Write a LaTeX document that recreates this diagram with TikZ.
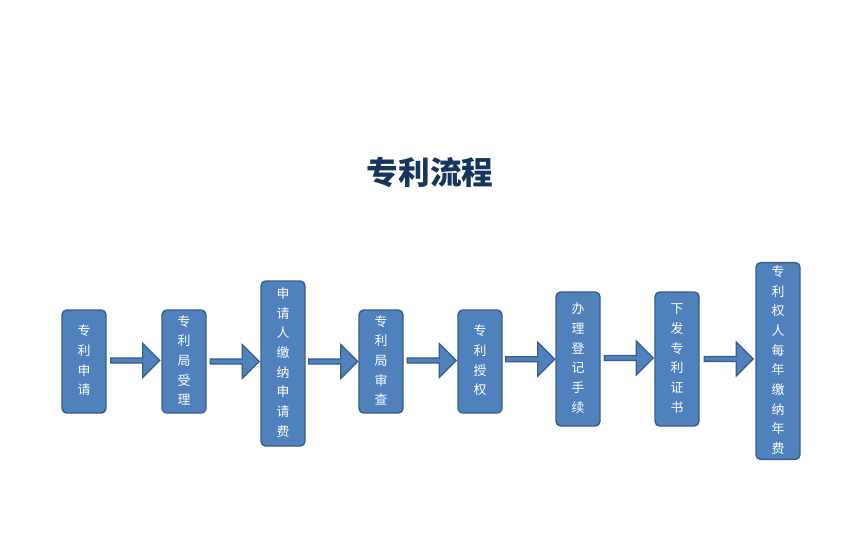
\documentclass[tikz,border=0pt]{standalone}
\usepackage{fontspec}
\newfontfamily\cjk{Noto Sans CJK SC}
\usetikzlibrary{shapes.arrows,calc}
\definecolor{boxfill}{HTML}{4F81BD}
\definecolor{boxline}{HTML}{385D8A}
\definecolor{titlecol}{HTML}{17365D}
\newcommand{\vtext}[1]{\begin{tabular}{@{}c@{}}#1\end{tabular}}
\begin{document}
\begin{tikzpicture}[x=0.03cm, y=-0.03cm,
    stepbox/.style={rectangle, rounded corners=4pt, draw=boxline, line width=1.2pt,
        fill=boxfill, text=white, minimum width=1.32cm, inner sep=0pt,
        font=\cjk\fontsize{11}{16.8}\selectfont},
    flow/.style={single arrow, draw=boxline, line width=1pt, fill=boxfill,
        minimum width=1.02cm, single arrow head extend=0.1cm, minimum height=1.47cm,
        inner sep=0pt, single arrow tip angle=90}
]
    \useasboundingbox (0,0) rectangle (864,546);
    % title
    \node[font=\cjk\bfseries\fontsize{27}{30}\selectfont, text=titlecol] (title) at (430,172) {专利流程};

    % boxes
    \node[stepbox, minimum height=3.09cm] (s1) at (84,361.5) {\vtext{专\\利\\申\\请}};
    \node[stepbox, minimum height=3.09cm] (s2) at (184,361.5) {\vtext{专\\利\\局\\受\\理}};
    \node[stepbox, minimum height=4.95cm] (s3) at (283,363.5) {\vtext{申\\请\\人\\缴\\纳\\申\\请\\费}};
    \node[stepbox, minimum height=3.09cm] (s4) at (381,361.5) {\vtext{专\\利\\局\\审\\查}};
    \node[stepbox, minimum height=3.09cm] (s5) at (480,361.5) {\vtext{专\\利\\授\\权}};
    \node[stepbox, minimum height=4.02cm] (s6) at (578,359) {\vtext{办\\理\\登\\记\\手\\续}};
    \node[stepbox, minimum height=4.02cm] (s7) at (677,359) {\vtext{下\\发\\专\\利\\证\\书}};
    \node[stepbox, minimum height=5.64cm] (s8) at (778,361) {\vtext{专\\利\\权\\人\\每\\年\\缴\\纳\\年\\费}};

    % arrows
    \foreach \a/\b in {s1/s2, s2/s3, s3/s4, s4/s5, s5/s6, s6/s7, s7/s8}
        \node[flow] (\a\b) at ($(\a.east)!0.5!(\b.west) + (0,-1)$) {};
\end{tikzpicture}
\end{document}
